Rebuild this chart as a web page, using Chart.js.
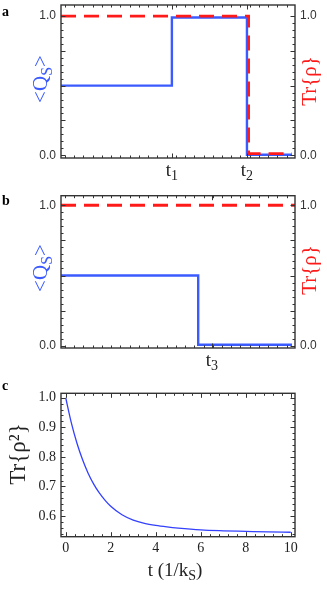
<!DOCTYPE html>
<html>
<head>
<meta charset="utf-8">
<script src="https://cdn.jsdelivr.net/npm/chart.js@4.4.1/dist/chart.umd.min.js"></script>
<style>
  html, body { margin: 0; padding: 0; background: #fff; }
  #wrap { position: relative; width: 327px; height: 589px; }
  canvas { position: absolute; left: 0; }
</style>
</head>
<body>
<div id="wrap">
  <canvas id="panelA" width="327" height="180" style="top:0"></canvas>
  <canvas id="panelB" width="327" height="190" style="top:180px"></canvas>
  <canvas id="panelC" width="327" height="219" style="top:370px"></canvas>
</div>
<script>
// panel a: <Q_S> (blue steps) and Tr{rho} (red dashed)
var aTimes = [0, 0.48, 0.805, 1];
var aCharge = [0.5, 0.99, 0.003, 0.003];
var aTraceTimes = [0, 0.812, 1];
var aTrace = [1, 0.012, 0.012];
var aMarks = [0.48, 0.805];
var aMarkNames = ["1", "2"];

// panel b
var bTimes = [0, 0.594, 1];
var bCharge = [0.5, 0.007, 0.007];
var bTraceTimes = [0, 1.013];
var bTrace = [1, 1];
var bMarks = [0.653];
var bMarkNames = ["3"];

// panel c: Tr{rho^2} vs t (1/kS)
var cTimes = [0, 0.25, 0.5, 0.75, 1, 1.25, 1.5, 1.75, 2, 2.5, 3, 3.5, 4, 4.5, 5, 6, 7, 8, 9, 10];
var cPurity = [1.0, 0.915, 0.846, 0.790, 0.744, 0.707, 0.677, 0.653, 0.633, 0.604, 0.586, 0.575, 0.568, 0.563, 0.559, 0.553, 0.550, 0.548, 0.546, 0.545];
var cTicksX = [0, 2, 4, 6, 8, 10];
var cTicksY = [0.6, 0.7, 0.8, 0.9, 1.0];

var SERIF = '"Liberation Serif", "Times New Roman", serif';
var SANS = '"Liberation Sans", Arial, sans-serif';
var BLUE = "#3b5bff";
var RED = "#ff1a1a";
var INK = "#333";

function pts(xs, ys) {
  return xs.map(function (x, i) { return { x: x, y: ys[i] }; });
}

function steps(from, to, step) {
  var out = [];
  for (var v = from; v <= to + 1e-9; v += step) out.push(+v.toFixed(6));
  return out;
}

// text with optional subscript parts, centred on x, baseline at y
function richText(ctx, parts, x, y, size, color, rot) {
  ctx.save();
  ctx.translate(x, y);
  ctx.rotate(rot || 0);
  ctx.fillStyle = color;
  ctx.textBaseline = "alphabetic";
  ctx.textAlign = "left";
  var fonts = parts.map(function (p) {
    return (p.sub ? Math.round(size * 0.75) : size) + "px " + SERIF;
  });
  var w = 0;
  parts.forEach(function (p, i) { ctx.font = fonts[i]; w += ctx.measureText(p.t).width; });
  var cx = -w / 2;
  parts.forEach(function (p, i) {
    ctx.font = fonts[i];
    ctx.fillText(p.t, cx, p.sub ? size * 0.22 : 0);
    cx += ctx.measureText(p.t).width;
  });
  ctx.restore();
}

// frame, inward ticks, subscript tick labels and titles
var decor = {
  id: "decor",
  afterDatasetsDraw: function (chart, args, o) {
    var ctx = chart.ctx, a = chart.chartArea;
    var xs = chart.scales.x, ys = chart.scales.y;
    ctx.save();
    ctx.strokeStyle = INK;
    ctx.lineWidth = 1;
    ctx.beginPath();
    function yTick(v, len) {
      if (v < ys.min || v > ys.max) return;
      var p = Math.round(ys.getPixelForValue(v)) + 0.5;
      ctx.moveTo(a.left, p); ctx.lineTo(a.left + len, p);
      ctx.moveTo(a.right, p); ctx.lineTo(a.right - len, p);
    }
    function xTick(v, len) {
      if (v < xs.min || v > xs.max) return;
      var p = Math.round(xs.getPixelForValue(v)) + 0.5;
      ctx.moveTo(p, a.bottom); ctx.lineTo(p, a.bottom - len);
      ctx.moveTo(p, a.top); ctx.lineTo(p, a.top + len);
    }
    o.yMinor.forEach(function (v) { yTick(v, 2.5); });
    o.yMajor.forEach(function (v) { yTick(v, 4.5); });
    o.xMinor.forEach(function (v) { xTick(v, 2.5); });
    o.xMajor.forEach(function (v) { xTick(v, 4.5); });
    ctx.stroke();
    ctx.lineWidth = 1.4;
    ctx.strokeRect(a.left, a.top, a.right - a.left, a.bottom - a.top);

    (o.marks || []).forEach(function (m, i) {
      richText(ctx, [{ t: "t" }, { t: o.markNames[i], sub: true }],
        xs.getPixelForValue(m), a.bottom + 18, 19, "#222");
    });
    o.titles.forEach(function (t) {
      richText(ctx, t.parts, t.x, t.y, t.size, t.color, t.rot);
    });
    ctx.font = "bold 14px " + SERIF;
    ctx.fillStyle = "#000";
    ctx.textAlign = "left";
    ctx.textBaseline = "alphabetic";
    ctx.fillText(o.letter, 2, o.letterY);
    ctx.restore();
  }
};

function fixWidth(w) {
  return function (s) { s.width = w; s.paddingTop = 0; s.paddingBottom = 0; };
}
function fixHeight(h) {
  return function (s) { s.height = h; s.paddingLeft = 0; s.paddingRight = 0; };
}

function stepPanel(id, d) {
  var yTicks = function (s) { s.ticks = [{ value: 0 }, { value: 1 }]; };
  var tickFont = { family: SANS, size: 12 };
  new Chart(document.getElementById(id), {
    type: "line",
    data: {
      datasets: [
        {
          data: pts(d.traceTimes, d.trace),
          stepped: true,
          borderColor: RED,
          borderWidth: 2.8,
          borderDash: [15, 8],
          pointRadius: 0,
          yAxisID: "y2",
        },
        {
          data: pts(d.times, d.charge),
          stepped: true,
          borderColor: BLUE,
          borderWidth: 2.4,
          pointRadius: 0,
          yAxisID: "y",
        },
      ],
    },
    options: {
      responsive: false,
      animation: false,
      devicePixelRatio: 1,
      layout: { padding: { top: d.top, left: 0, right: 0, bottom: 0 } },
      plugins: {
        legend: { display: false },
        tooltip: { enabled: false },
        decor: {
          yMajor: steps(0, 1, 0.25),
          yMinor: steps(0, 1, 0.05),
          xMinor: steps(0.017, 1.013, 0.04),
          xMajor: d.marks,
          marks: d.marks,
          markNames: d.markNames,
          letter: d.letter,
          letterY: d.letterY,
          titles: [
            { parts: [{ t: "<Q" }, { t: "S", sub: true }, { t: ">" }], x: 47, y: d.titleY, size: 21, color: BLUE, rot: -Math.PI / 2 },
            { parts: [{ t: "Tr{ρ}" }], x: 316, y: d.titleY + 2, size: 21, color: RED, rot: -Math.PI / 2 },
          ],
        },
      },
      scales: {
        x: {
          type: "linear",
          min: 0,
          max: 1.013,
          grid: { display: false, drawTicks: false },
          border: { display: false },
          ticks: { display: false },
          afterFit: fixHeight(d.bottomH),
        },
        y: {
          position: "left",
          min: d.yMin,
          max: d.yMax,
          grid: { display: false, drawTicks: false },
          border: { display: false },
          afterBuildTicks: yTicks,
          ticks: { color: INK, font: tickFont, padding: 5, callback: function (v) { return v.toFixed(1); } },
          afterFit: fixWidth(61),
        },
        y2: {
          position: "right",
          min: d.yMin,
          max: d.yMax,
          grid: { display: false, drawTicks: false },
          border: { display: false },
          afterBuildTicks: yTicks,
          ticks: { color: INK, font: tickFont, padding: 5, callback: function (v) { return v.toFixed(1); } },
          afterFit: fixWidth(32),
        },
      },
    },
    plugins: [decor],
  });
}

stepPanel("panelA", {
  times: aTimes, charge: aCharge, traceTimes: aTraceTimes, trace: aTrace,
  marks: aMarks, markNames: aMarkNames, letter: "a", letterY: 16,
  top: 5, bottomH: 22, yMin: -0.02, yMax: 1.08, titleY: 79,
});

stepPanel("panelB", {
  times: bTimes, charge: bCharge, traceTimes: bTraceTimes, trace: bTrace,
  marks: bMarks, markNames: bMarkNames, letter: "b", letterY: 25,
  top: 15.7, bottomH: 22, yMin: -0.016, yMax: 1.068, titleY: 88,
});

new Chart(document.getElementById("panelC"), {
  type: "line",
  data: {
    datasets: [
      {
        data: pts(cTimes, cPurity),
        borderColor: "#3340ff",
        borderWidth: 1.3,
        pointRadius: 0,
        cubicInterpolationMode: "monotone",
      },
    ],
  },
  options: {
    responsive: false,
    animation: false,
    devicePixelRatio: 1,
    layout: { padding: { top: 23.3, left: 0, right: 32, bottom: 0 } },
    plugins: {
      legend: { display: false },
      tooltip: { enabled: false },
      decor: {
        yMajor: cTicksY,
        yMinor: steps(0.54, 1.0, 0.02),
        xMajor: cTicksX,
        xMinor: steps(0, 10, 0.4),
        letter: "c",
        letterY: 20,
        titles: [
          { parts: [{ t: "Tr{ρ²}" }], x: 25, y: 84, size: 23, color: "#222", rot: -Math.PI / 2 },
          { parts: [{ t: "t (1/k" }, { t: "S", sub: true }, { t: ")" }], x: 175, y: 206, size: 19, color: "#222", rot: 0 },
        ],
      },
    },
    scales: {
      x: {
        type: "linear",
        min: -0.21,
        max: 10.19,
        grid: { display: false, drawTicks: false },
        border: { display: false },
        afterBuildTicks: function (s) { s.ticks = cTicksX.map(function (v) { return { value: v }; }); },
        ticks: { color: "#222", font: { family: SERIF, size: 14 }, padding: 3, maxRotation: 0 },
        afterFit: fixHeight(52.3),
      },
      y: {
        min: 0.53,
        max: 1.015,
        grid: { display: false, drawTicks: false },
        border: { display: false },
        afterBuildTicks: function (s) { s.ticks = cTicksY.map(function (v) { return { value: v }; }); },
        ticks: { color: "#222", font: { family: SERIF, size: 14 }, padding: 5, callback: function (v) { return v.toFixed(1); } },
        afterFit: fixWidth(61),
      },
    },
  },
  plugins: [decor],
});
</script>
</body>
</html>
